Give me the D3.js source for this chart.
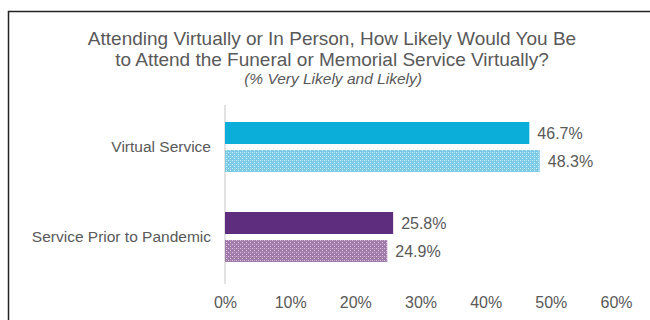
<!DOCTYPE html>
<html><head><meta charset="utf-8">
<script src="https://cdn.jsdelivr.net/npm/d3@7"></script>
<style>body{margin:0;background:#fff}svg{display:block}</style>
</head><body>
<svg id="c" width="650" height="320"></svg>
<script>
const categories = ["Virtual Service", "Service Prior to Pandemic"];
const seriesA = [46.7, 25.8];
const seriesB = [48.3, 24.9];
const xTicks = [0, 10, 20, 30, 40, 50, 60];
const titleLines = ["Attending Virtually or In Person, How Likely Would You Be", "to Attend the Funeral or Memorial Service Virtually?"];
const subtitle = "(% Very Likely and Likely)";

const svg = d3.select("#c");
const font = "'Liberation Sans', Arial, sans-serif";
const textColor = "#595959";

// frame
svg.append("path").attr("d", "M8.5,320 V11.5 H650").attr("fill", "none").attr("stroke", "#222").attr("stroke-width", 1.5);

// patterns
const defs = svg.append("defs");
function pat(id, base, dot) {
  const p = defs.append("pattern").attr("id", id).attr("patternUnits", "userSpaceOnUse").attr("width", 4).attr("height", 4);
  p.append("rect").attr("width", 4).attr("height", 4).attr("fill", base);
  p.append("rect").attr("x", 0).attr("y", 0).attr("width", 1).attr("height", 1).attr("fill", dot);
  p.append("rect").attr("x", 2).attr("y", 2).attr("width", 1).attr("height", 1).attr("fill", dot);
  p.append("rect").attr("x", 2).attr("y", 0).attr("width", 1).attr("height", 1).attr("fill", dot).attr("opacity", 0.5);
}
pat("patBlue", "#7ccbe6", "#d3eef7");
pat("patPurple", "#a07aa8", "#d9c9dc");

const solidColors = ["#0aaed9", "#5e2d7e"];
const patFills = ["url(#patBlue)", "url(#patPurple)"];

// title
const t = svg.append("g").attr("font-family", font).attr("fill", textColor).attr("text-anchor", "middle");
titleLines.forEach((l, i) => t.append("text").attr("x", 332).attr("y", 45 + i * 21).attr("font-size", 19).text(l));
t.append("text").attr("x", 333).attr("y", 84).attr("font-size", 15.5).attr("font-style", "italic").text(subtitle);

const x = d3.scaleLinear().domain([0, 60]).range([225, 616]);
const y = d3.scaleBand().domain(categories).range([105, 285]).paddingInner(0.0).paddingOuter(0.0);

// axis line
svg.append("line").attr("x1", 225).attr("x2", 225).attr("y1", 105).attr("y2", 284).attr("stroke", "#d9d9d9").attr("stroke-width", 1.5);

// x tick labels
const xAxis = d3.axisBottom(x).tickValues(xTicks).tickFormat(d => d + "%").tickSize(0).tickPadding(0);
const gx = svg.append("g").attr("transform", "translate(0,297)").call(xAxis);
gx.select(".domain").remove();
gx.selectAll("text").attr("font-family", font).attr("font-size", 16).attr("fill", textColor);

// category labels
const yAxis = d3.axisLeft(y).tickSize(0).tickPadding(0);
const gy = svg.append("g").attr("transform", "translate(211,0)").call(yAxis);
gy.select(".domain").remove();
gy.selectAll("text").attr("font-family", font).attr("font-size", 15.5).attr("fill", textColor).attr("dy", "0.35em").attr("y", -3);

const barH = 22;
const bars = svg.append("g");
categories.forEach((c, i) => {
  const yc = y(c) + y.bandwidth() / 2;
  const y1 = yc - barH - 3 - 3;
  const y2 = yc + 3 - 3;
  bars.append("rect").attr("x", x(0)).attr("y", y1).attr("width", x(seriesA[i]) - x(0)).attr("height", barH).attr("fill", solidColors[i]);
  bars.append("rect").attr("x", x(0)).attr("y", y2).attr("width", x(seriesB[i]) - x(0)).attr("height", barH).attr("fill", patFills[i]);
  bars.append("text").attr("x", x(seriesA[i]) + 8).attr("y", y1 + barH / 2).attr("dy", "0.35em")
    .attr("font-family", font).attr("font-size", 16).attr("fill", textColor).text(seriesA[i].toFixed(1) + "%");
  bars.append("text").attr("x", x(seriesB[i]) + 8).attr("y", y2 + barH / 2).attr("dy", "0.35em")
    .attr("font-family", font).attr("font-size", 16).attr("fill", textColor).text(seriesB[i].toFixed(1) + "%");
});
</script>
</body></html>
